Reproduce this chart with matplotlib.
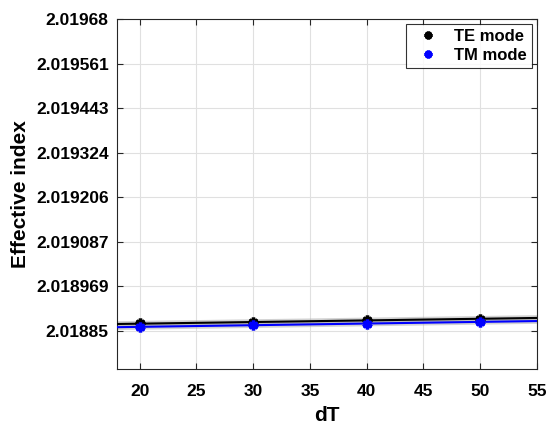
import numpy as np
import matplotlib
matplotlib.use("Agg")
import matplotlib.pyplot as plt

plt.rcParams['font.family'] = ['Liberation Sans', 'DejaVu Sans']
plt.rcParams['font.weight'] = 'bold'

dT = [20, 30, 40, 50]
te_mode = [2.0188700, 2.0188731, 2.0188785, 2.0188827]
tm_mode = [2.0188614, 2.0188652, 2.0188694, 2.0188747]
y_ticks = [2.01885, 2.018969, 2.019087, 2.019206, 2.019324, 2.019443, 2.019561, 2.01968]
y_tick_labels = ['2.01885', '2.018969', '2.019087', '2.019206', '2.019324', '2.019443', '2.019561', '2.01968']
x_ticks = [20, 25, 30, 35, 40, 45, 50, 55]

fig = plt.figure(figsize=(5.47, 4.25), dpi=100)
ax = fig.add_axes([0.2139, 0.1318, 0.7678, 0.8235])

xfit = np.array([18, 55])
for y, c in [(te_mode, 'black'), (tm_mode, 'blue')]:
    p = np.polyfit(dT, y, 1)
    ax.plot(xfit, np.polyval(p, xfit), color='0.65', lw=4, alpha=0.5, zorder=2)
    ax.plot(xfit, np.polyval(p, xfit), color=c, lw=1.5, zorder=3)

ax.plot(dT, te_mode, linestyle='none', marker=(6, 2, 0), color='black',
        markersize=7, markeredgewidth=2.5, label='TE mode', zorder=4)
ax.plot(dT, tm_mode, linestyle='none', marker=(6, 2, 0), color='blue',
        markersize=7, markeredgewidth=2.5, label='TM mode', zorder=4)

ax.set_xlim(18, 55)
ax.set_ylim(2.018749, 2.01968)
ax.set_xticks(x_ticks)
ax.set_yticks(y_ticks)
ax.set_yticklabels(y_tick_labels)
ax.tick_params(direction='in', top=True, right=True, labelsize=12.5, length=4,
               width=0.8, color='0.15')
ax.tick_params(axis='y', pad=6)
ax.tick_params(axis='x', pad=11)
for lab in ax.get_xticklabels() + ax.get_yticklabels():
    lab.set_fontweight('bold')
ax.grid(True, color='0.88', linewidth=0.8)
ax.set_axisbelow(True)
for s in ax.spines.values():
    s.set_color('0.15')
    s.set_linewidth(0.8)

ax.set_xlabel('dT', fontsize=15, fontweight='bold', labelpad=5)
ax.set_ylabel('Effective index', fontsize=15, fontweight='bold', labelpad=4)

leg = ax.legend(loc='upper right', fontsize=12, frameon=True, fancybox=False,
                edgecolor='black', handletextpad=0.6, borderaxespad=0.3,
                handlelength=2.0, markerscale=0.8, labelspacing=0.25,
                borderpad=0.3)
leg.get_frame().set_linewidth(0.8)
for t in leg.get_texts():
    t.set_fontweight('bold')

fig.savefig('out.png', dpi=100)
